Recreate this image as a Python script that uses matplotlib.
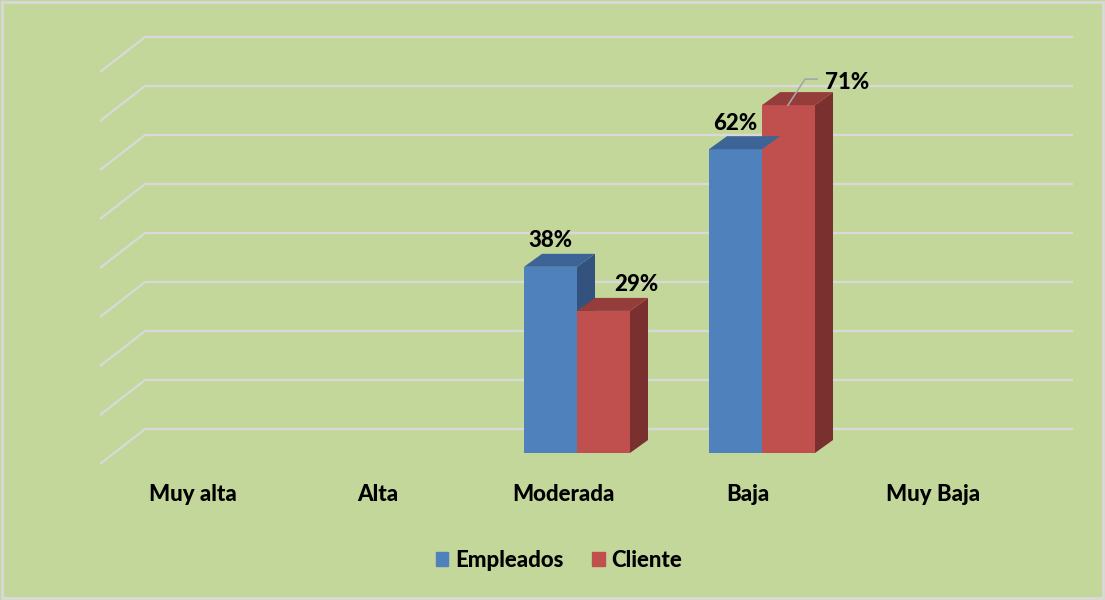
import matplotlib.pyplot as plt
from matplotlib.patches import Polygon, Patch

categories = ["Muy alta", "Alta", "Moderada", "Baja", "Muy Baja"]
empleados = [0, 0, 38, 62, 0]
cliente = [0, 0, 29, 71, 0]
series_names = ["Empleados", "Cliente"]
grid_levels = [0, 10, 20, 30, 40, 50, 60, 70, 80]

# colours (front, top, side)
blue = ("#4F81BD", "#3D6497", "#33527D")
red = ("#C0504D", "#943D3B", "#7A302E")
bg = "#C4D79B"
grid_col = "#D9D9D9"

fig = plt.figure(figsize=(11.05, 6.0), dpi=100, facecolor=bg)
ax = fig.add_axes([0, 0, 1, 1])
ax.set_facecolor(bg)
ax.set_xlim(-1.119, 4.854)
ax.set_ylim(-30, 92.45)
ax.axis("off")

# pixel -> data helpers for the pseudo-3d depth
px_x = 1 / 185.0
px_y = 1 / 4.9

# back wall gridlines with their floor diagonals
back_left, back_right = -0.335, 4.681
wall_dx, wall_dy = 45 * px_x, 35 * px_y
back_off = 24 * px_y
for g in grid_levels:
    yb = g + back_off
    ax.plot([back_left - wall_dx, back_left, back_right], [yb - wall_dy, yb, yb],
            color=grid_col, lw=1.6, solid_capstyle="butt", zorder=1)

# bars
bw = 53 * px_x
ddx, ddy = 18 * px_x, 13 * px_y
xs = list(range(len(categories)))


def draw_bars(xpos, vals, cols):
    ax.bar(xpos, vals, width=bw, color=cols[0], align="edge", zorder=3, lw=0)
    for x0, v in zip(xpos, vals):
        if v <= 0:
            continue
        top = [(x0, v), (x0 + bw, v), (x0 + bw + ddx, v + ddy), (x0 + ddx, v + ddy)]
        side = [(x0 + bw, 0), (x0 + bw + ddx, ddy), (x0 + bw + ddx, v + ddy), (x0 + bw, v)]
        ax.add_patch(Polygon(side, closed=True, fc=cols[2], ec="none", zorder=2))
        ax.add_patch(Polygon(top, closed=True, fc=cols[1], ec="none", zorder=4))


draw_bars([x for x in xs], cliente, red)
draw_bars([x - bw for x in xs], empleados, blue)

lab_font = dict(family="Lato", fontsize=16, fontweight="black", color="black")

# data labels
for x, v in zip(xs, empleados):
    if v > 0:
        ax.text(x - bw / 2, v + 26 * px_y, f"{v}%", ha="center", va="center", **lab_font)
for x, v in zip(xs, cliente):
    if v <= 0:
        continue
    if v > 65:
        # label pushed up-right with a leader line
        ax.plot([x + 26 * px_x, x + 43 * px_x, x + 55 * px_x],
                [v, v + 26 * px_y, v + 26 * px_y],
                color="#A6A6A6", lw=1.2, zorder=5)
        ax.text(x + 85 * px_x, v + 23 * px_y, f"{v}%", ha="center", va="center", **lab_font)
    else:
        ax.text(x + 59 * px_x, v + 26 * px_y, f"{v}%", ha="center", va="center", **lab_font)

# category labels
for x, c in zip(xs, categories):
    ax.text(x - 14 * px_x, -41 * px_y, c, ha="center", va="center", **lab_font)

# legend
handles = [Patch(color=blue[0]), Patch(color=red[0])]
leg = fig.legend(handles, series_names, loc="center", bbox_to_anchor=(0.506, 0.066),
                 ncol=2, frameon=False, handlelength=0.55, handleheight=0.55,
                 handletextpad=0.3, columnspacing=1.3,
                 prop=dict(family="Lato", size=16, weight="black"))

# outer frame
fig.patches.append(plt.Rectangle((0.002, 0.003), 0.996, 0.994, transform=fig.transFigure,
                                 fill=False, ec="#D9D9D9", lw=2))

fig.savefig("out.png", dpi=100, facecolor=bg)
